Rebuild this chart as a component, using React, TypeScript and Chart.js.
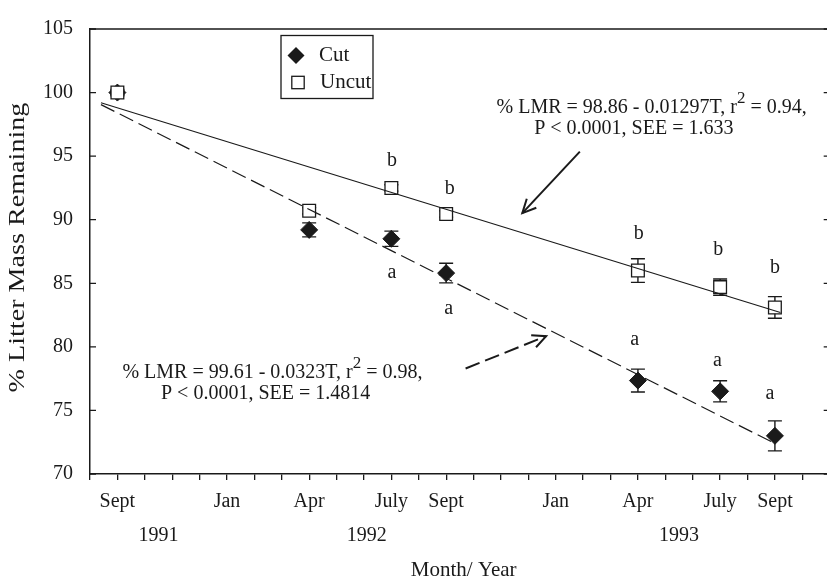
import React, { useEffect, useRef } from "react";
import { Chart, registerables } from "chart.js";

Chart.register(...registerables);

const FONT = "'Liberation Serif', 'Times New Roman', Times, serif";

// months counted from Sept 1991 (= 0)
const sampleMonths = [0, 7, 10, 12, 19, 22, 24];
const cutValues = [100, 89.2, 88.5, 85.8, 77.35, 76.5, 73.0];
const cutErrors = [0.25, 0.55, 0.6, 0.77, 0.9, 0.83, 1.18];
const uncutValues = [100, 90.7, 92.5, 90.45, 86.0, 84.7, 83.1];
const uncutErrors = [0.15, 0.25, 0.25, 0.25, 0.93, 0.64, 0.85];

const cutFitMonths = [-0.6, 24.0];
const cutFitValues = [99.05, 72.4];
const uncutFitMonths = [-0.6, 24.2];
const uncutFitValues = [99.2, 82.7];

const monthTickPos = [0, 4, 7, 10, 12, 16, 19, 22, 24];
const monthTickNames = ["Sept", "Jan", "Apr", "July", "Sept", "Jan", "Apr", "July", "Sept"];
const yearNames = ["1991", "1992", "1993"];
const yearPos = [1.5, 9.1, 20.5];

const letterTexts = ["b", "a", "b", "a", "b", "b", "b", "a", "a", "a"];
const letterMonths = [10.02, 10.02, 12.13, 12.09, 19.03, 21.93, 24.0, 18.88, 21.9, 23.82];
const letterValues = [94.6, 85.83, 92.44, 82.99, 88.91, 87.6, 86.22, 80.53, 78.92, 76.3];

const upperEqLine1 = ["% LMR = 98.86 - 0.01297T, r", "2", " = 0.94,"];
const upperEqLine2 = "P < 0.0001, SEE = 1.633";
const upperEqPos = [[19.5, 98.82], [18.85, 97.13]];
const lowerEqLine1 = ["% LMR = 99.61 - 0.0323T, r", "2", " = 0.98,"];
const lowerEqLine2 = "P < 0.0001, SEE = 1.4814";
const lowerEqPos = [[5.66, 77.99], [5.41, 76.3]];

const upperArrow = [[16.88, 95.36], [14.78, 90.52]];
const lowerArrow = [[12.71, 78.3], [15.65, 80.84]];

const seriesNames = ["Cut", "Uncut"];
const yTitle = "% Litter Mass Remaining";
const xTitle = "Month/ Year";

const INK = "#1a1a1a";

function drawArrow(ctx: CanvasRenderingContext2D, x1: number, y1: number, x2: number, y2: number, dash: number[]) {
  ctx.save();
  ctx.strokeStyle = INK;
  ctx.lineWidth = 2;
  ctx.setLineDash(dash);
  ctx.beginPath();
  ctx.moveTo(x1, y1);
  ctx.lineTo(x2, y2);
  ctx.stroke();
  ctx.setLineDash([]);
  const ang = Math.atan2(y2 - y1, x2 - x1);
  const L = 15;
  const spread = 0.45;
  ctx.beginPath();
  ctx.moveTo(x2 - L * Math.cos(ang - spread), y2 - L * Math.sin(ang - spread));
  ctx.lineTo(x2, y2);
  ctx.lineTo(x2 - L * Math.cos(ang + spread), y2 - L * Math.sin(ang + spread));
  ctx.stroke();
  ctx.restore();
}

function drawSupLine(ctx: CanvasRenderingContext2D, parts: string[], cx: number, cy: number) {
  const main = `20px ${FONT}`;
  const sup = `17px ${FONT}`;
  ctx.font = main;
  const w0 = ctx.measureText(parts[0]).width;
  const w2 = ctx.measureText(parts[2]).width;
  ctx.font = sup;
  const w1 = ctx.measureText(parts[1]).width;
  let x = cx - (w0 + w1 + w2) / 2;
  ctx.textAlign = "left";
  ctx.textBaseline = "middle";
  ctx.font = main;
  ctx.fillText(parts[0], x, cy);
  x += w0;
  ctx.font = sup;
  ctx.fillText(parts[1], x, cy - 9);
  x += w1;
  ctx.font = main;
  ctx.fillText(parts[2], x, cy);
}

const decorPlugin = {
  id: "decor",
  beforeDatasetsDraw(chart: any) {
    const ctx = chart.ctx as CanvasRenderingContext2D;
    const xs = chart.scales.x;
    const ys = chart.scales.y;
    ctx.save();
    ctx.strokeStyle = INK;
    ctx.lineWidth = 1.4;
    const series = [
      [cutValues, cutErrors],
      [uncutValues, uncutErrors],
    ];
    for (const [vals, errs] of series) {
      for (let i = 0; i < sampleMonths.length; i++) {
        const px = xs.getPixelForValue(sampleMonths[i]);
        const top = ys.getPixelForValue(vals[i] + errs[i]);
        const bot = ys.getPixelForValue(vals[i] - errs[i]);
        ctx.beginPath();
        ctx.moveTo(px, top);
        ctx.lineTo(px, bot);
        ctx.moveTo(px - 7, top);
        ctx.lineTo(px + 7, top);
        ctx.moveTo(px - 7, bot);
        ctx.lineTo(px + 7, bot);
        ctx.stroke();
      }
    }
    ctx.restore();
  },
  afterDraw(chart: any) {
    const ctx = chart.ctx as CanvasRenderingContext2D;
    const xs = chart.scales.x;
    const ys = chart.scales.y;
    const area = chart.chartArea;
    const X = (m: number) => xs.getPixelForValue(m);
    const Y = (v: number) => ys.getPixelForValue(v);
    ctx.save();
    ctx.strokeStyle = INK;
    ctx.fillStyle = INK;
    ctx.lineWidth = 1.5;
    // frame: top and right
    ctx.beginPath();
    ctx.moveTo(area.left, area.top);
    ctx.lineTo(area.right, area.top);
    ctx.lineTo(area.right, area.bottom);
    ctx.stroke();
    // inward y ticks, left and right
    ctx.lineWidth = 1.3;
    for (let v = 70; v <= 105; v += 5) {
      const py = Y(v);
      ctx.beginPath();
      ctx.moveTo(area.left, py);
      ctx.lineTo(area.left + 6, py);
      ctx.moveTo(area.right - 6, py);
      ctx.lineTo(area.right, py);
      ctx.stroke();
    }
    // year labels
    ctx.font = `20px ${FONT}`;
    ctx.textAlign = "center";
    ctx.textBaseline = "middle";
    yearNames.forEach((n, i) => ctx.fillText(n, X(yearPos[i]), area.bottom + 62));
    // x title
    ctx.font = `21px ${FONT}`;
    ctx.fillText(xTitle, X(12.64), area.bottom + 96);
    // y title
    ctx.save();
    ctx.translate(18, (area.top + area.bottom) / 2 - 4);
    ctx.rotate(-Math.PI / 2);
    ctx.scale(1.25, 1);
    ctx.font = `22.5px ${FONT}`;
    ctx.fillText(yTitle, 0, 0);
    ctx.restore();
    // letters
    ctx.font = `20px ${FONT}`;
    letterTexts.forEach((t, i) => ctx.fillText(t, X(letterMonths[i]), Y(letterValues[i])));
    // equations
    drawSupLine(ctx, upperEqLine1, X(upperEqPos[0][0]), Y(upperEqPos[0][1]));
    ctx.textAlign = "center";
    ctx.font = `20px ${FONT}`;
    ctx.fillText(upperEqLine2, X(upperEqPos[1][0]), Y(upperEqPos[1][1]));
    drawSupLine(ctx, lowerEqLine1, X(lowerEqPos[0][0]), Y(lowerEqPos[0][1]));
    ctx.textAlign = "center";
    ctx.font = `20px ${FONT}`;
    ctx.fillText(lowerEqLine2, X(lowerEqPos[1][0]), Y(lowerEqPos[1][1]));
    // arrows
    drawArrow(ctx, X(upperArrow[0][0]), Y(upperArrow[0][1]), X(upperArrow[1][0]), Y(upperArrow[1][1]), []);
    drawArrow(ctx, X(lowerArrow[0][0]), Y(lowerArrow[0][1]), X(lowerArrow[1][0]), Y(lowerArrow[1][1]), [15, 6]);
    // legend
    const lx = area.left + 191;
    const ly = area.top + 6.5;
    ctx.lineWidth = 1.3;
    ctx.fillStyle = "#fff";
    ctx.fillRect(lx, ly, 92, 63);
    ctx.strokeRect(lx, ly, 92, 63);
    ctx.fillStyle = INK;
    // diamond
    const dx = lx + 15, dy = ly + 20, r = 8.5;
    ctx.beginPath();
    ctx.moveTo(dx - r, dy);
    ctx.lineTo(dx, dy - r);
    ctx.lineTo(dx + r, dy);
    ctx.lineTo(dx, dy + r);
    ctx.closePath();
    ctx.fill();
    // square
    const sx = lx + 17, sy = ly + 47, h = 6.2;
    ctx.fillStyle = "#fff";
    ctx.fillRect(sx - h, sy - h, 2 * h, 2 * h);
    ctx.strokeRect(sx - h, sy - h, 2 * h, 2 * h);
    ctx.fillStyle = INK;
    ctx.font = `21px ${FONT}`;
    ctx.textAlign = "left";
    ctx.fillText(seriesNames[0], lx + 38, dy);
    ctx.fillText(seriesNames[1], lx + 39, sy);
    ctx.restore();
  },
};

export default function App() {
  const ref = useRef<HTMLCanvasElement | null>(null);
  useEffect(() => {
    if (!ref.current) return;
    const toPts = (xs: number[], ys: number[]) => xs.map((x, i) => ({ x, y: ys[i] }));
    const chart = new Chart(ref.current, {
      type: "scatter",
      data: {
        datasets: [
          {
            type: "line",
            label: "uncut fit",
            data: toPts(uncutFitMonths, uncutFitValues),
            borderColor: INK,
            borderWidth: 1.2,
            pointRadius: 0,
            fill: false,
            order: 0,
          } as any,
          {
            type: "line",
            label: "cut fit",
            data: toPts(cutFitMonths, cutFitValues),
            borderColor: INK,
            borderWidth: 1.2,
            borderDash: [15, 6],
            pointRadius: 0,
            fill: false,
            order: 1,
          } as any,
          {
            label: seriesNames[1],
            data: toPts(sampleMonths, uncutValues),
            pointStyle: "rect",
            pointRadius: 9,
            pointBackgroundColor: "#fff",
            pointBorderColor: INK,
            pointBorderWidth: 1.3,
            order: 2,
          },
          {
            label: seriesNames[0],
            data: toPts(sampleMonths, cutValues),
            pointStyle: "rectRot",
            pointRadius: 8.5,
            pointBackgroundColor: INK,
            pointBorderColor: INK,
            pointBorderWidth: 1,
            order: 3,
          },
        ],
      },
      options: {
        animation: false,
        responsive: false,
        devicePixelRatio: 1,
        layout: { padding: { top: 18.5, right: 7, left: 0, bottom: 0 } },
        plugins: { legend: { display: false }, tooltip: { enabled: false } },
        scales: {
          x: {
            type: "linear",
            min: -1,
            max: 26,
            afterFit: (s: any) => {
              s.height = 106;
            },
            grid: { drawOnChartArea: false, drawTicks: true, tickLength: 6, color: INK, lineWidth: 1.3 },
            border: { display: true, color: INK, width: 1.5 },
            ticks: {
              stepSize: 1,
              autoSkip: false,
              maxRotation: 0,
              padding: 10,
              color: INK,
              font: { family: FONT, size: 20 },
              callback: (v: any) => {
                const i = monthTickPos.indexOf(Number(v));
                return i >= 0 ? monthTickNames[i] : "";
              },
            },
          },
          y: {
            min: 70,
            max: 105,
            afterFit: (s: any) => {
              s.width = 90;
            },
            grid: { drawOnChartArea: false, drawTicks: false },
            border: { display: true, color: INK, width: 1.5 },
            ticks: {
              stepSize: 5,
              padding: 17,
              color: INK,
              font: { family: FONT, size: 20 },
            },
          },
        },
      },
      plugins: [decorPlugin],
    });
    return () => chart.destroy();
  }, []);
  return (
    <div style={{ position: "fixed", left: 0, top: 0, width: 827, height: 580, overflow: "hidden", background: "#fff" }}>
      <canvas ref={ref} width={840} height={580} style={{ display: "block" }} />
    </div>
  );
}
